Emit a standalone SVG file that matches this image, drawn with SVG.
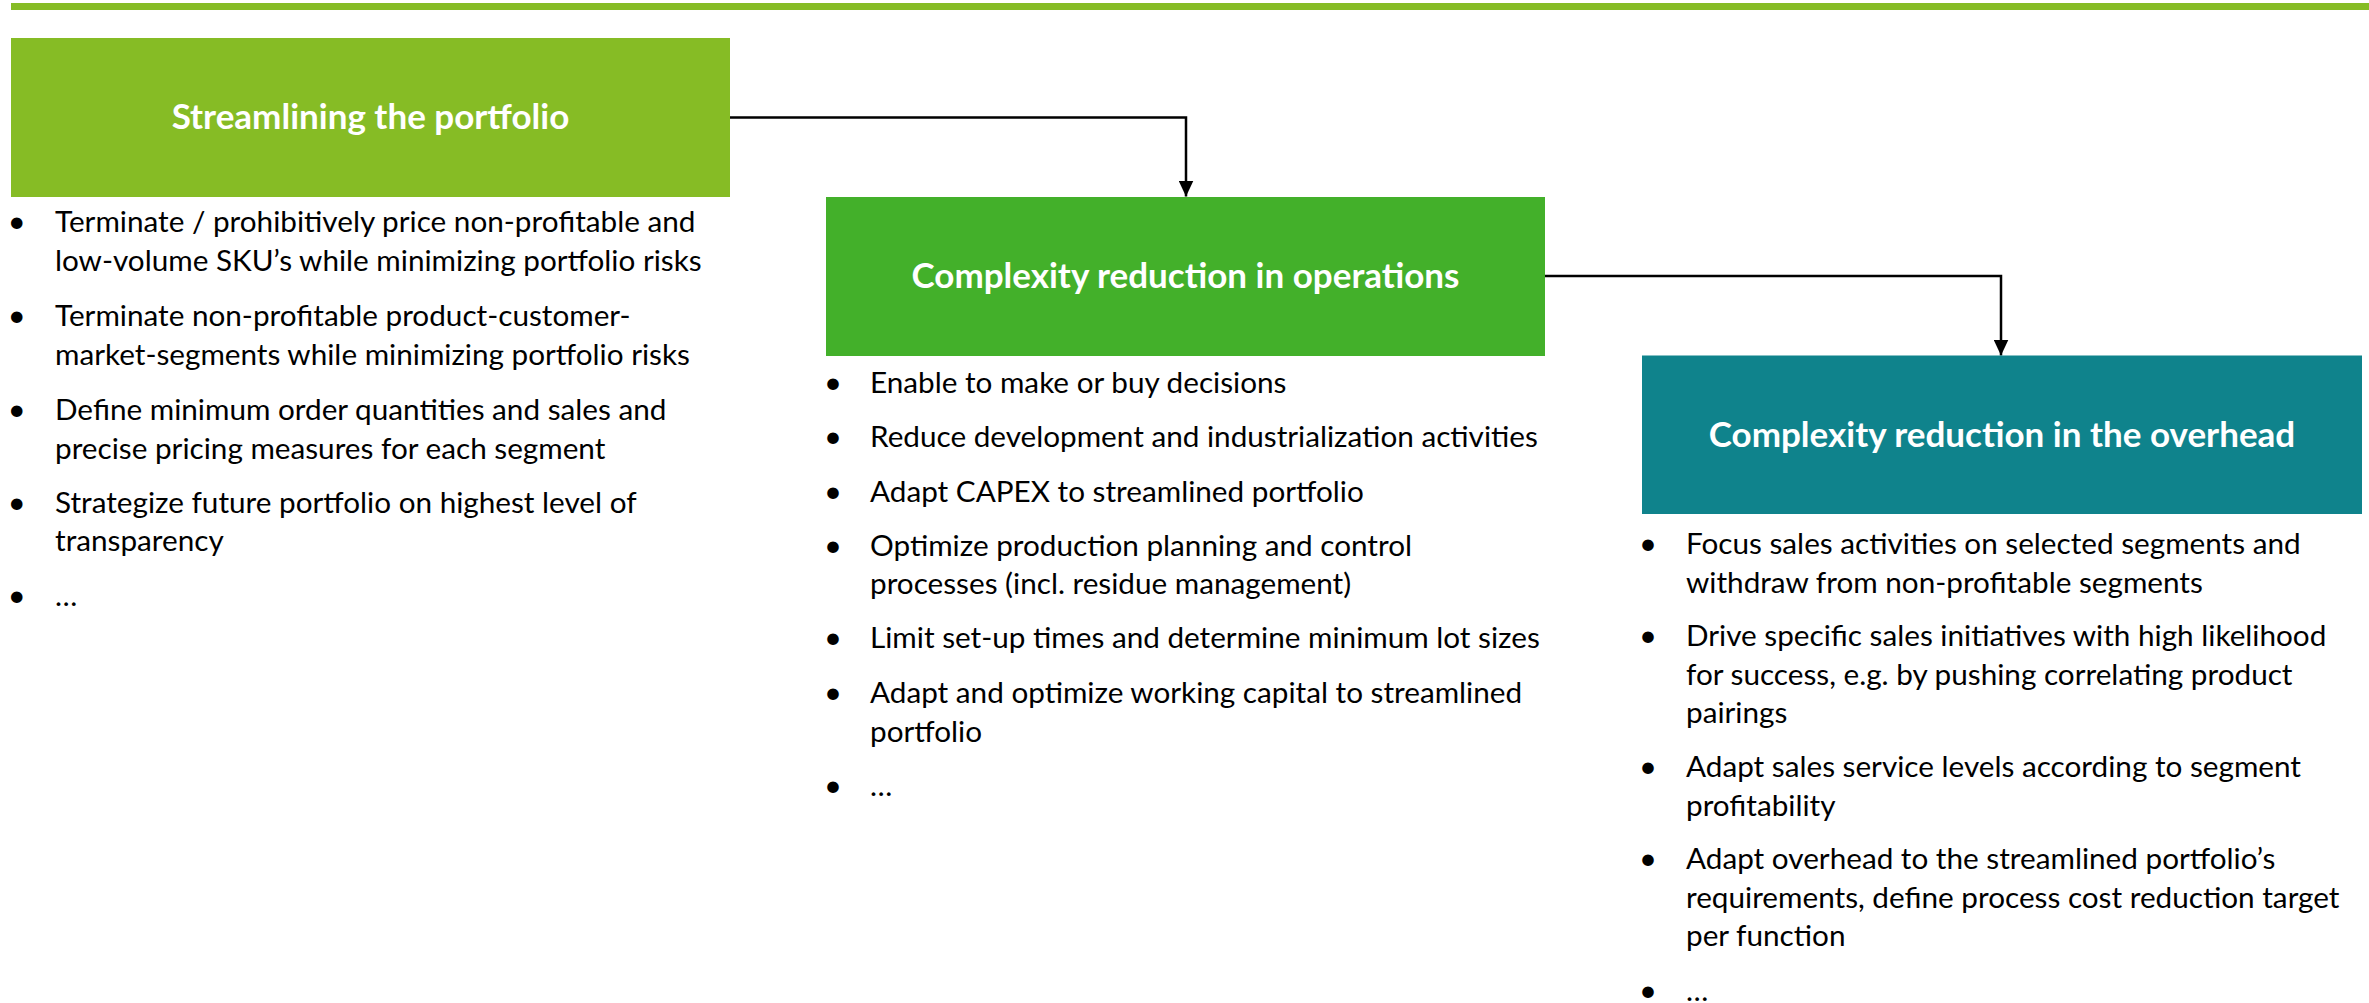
<svg xmlns="http://www.w3.org/2000/svg" width="2369" height="1003" viewBox="0 0 2369 1003">
  <style>
    .title { font-family: Lato, "Open Sans", "Liberation Sans", sans-serif; font-weight: 700; font-size: 35px; fill: #ffffff; text-anchor: middle; }
    .item { font-family: Lato, "Open Sans", "Liberation Sans", sans-serif; font-size: 29.7px; fill: #000000; }
    .dot { font-family: Lato, "Open Sans", "Liberation Sans", sans-serif; font-size: 31px; fill: #000000; text-anchor: middle; }
    .link { fill: none; stroke: #000000; stroke-width: 2.5; stroke-linejoin: miter; }
  </style>
  <defs>
    <marker id="arrow" markerUnits="userSpaceOnUse" markerWidth="16" markerHeight="15" refX="16" refY="7.5" orient="auto">
      <path d="M0,0 L16,7.5 L0,15 Z" fill="#000000"/>
    </marker>
  </defs>

  <rect width="2369" height="1003" fill="#ffffff"/>

  <!-- header rule -->
  <rect id="header-rule" x="11" y="3" width="2358" height="7" fill="#86BC25"/>

  <!-- connectors -->
  <g id="connectors">
    <path class="link" d="M730,117.5 H1186 V196.5" marker-end="url(#arrow)"/>
    <path class="link" d="M1545,276 H2001 V355.5" marker-end="url(#arrow)"/>
  </g>

  <!-- stage 1 -->
  <g id="node-streamlining">
    <rect x="11" y="38" width="719" height="159" fill="#86BC25"/>
    <text class="title" x="370.5" y="129">Streamlining the portfolio</text>
    <g id="list-streamlining">
      <text class="dot" x="16.7" y="232">•</text>
      <text class="item" x="55" y="232">Terminate / prohibitively price non-profitable and</text>
      <text class="item" x="55" y="271">low-volume SKU’s while minimizing portfolio risks</text>
      <text class="dot" x="16.7" y="326">•</text>
      <text class="item" x="55" y="326">Terminate non-profitable product-customer-</text>
      <text class="item" x="55" y="365">market-segments while minimizing portfolio risks</text>
      <text class="dot" x="16.7" y="420">•</text>
      <text class="item" x="55" y="420">Define minimum order quantities and sales and</text>
      <text class="item" x="55" y="458.5">precise pricing measures for each segment</text>
      <text class="dot" x="16.7" y="513">•</text>
      <text class="item" x="55" y="513">Strategize future portfolio on highest level of</text>
      <text class="item" x="55" y="551">transparency</text>
      <text class="dot" x="16.7" y="606">•</text>
      <text class="item" x="55" y="606">…</text>
    </g>
  </g>

  <!-- stage 2 -->
  <g id="node-operations">
    <rect x="826" y="197" width="719" height="159" fill="#43B02A"/>
    <text class="title" x="1185.5" y="288">Complexity reduction in operations</text>
    <g id="list-operations">
      <text class="dot" x="833" y="393">•</text>
      <text class="item" x="870" y="393">Enable to make or buy decisions</text>
      <text class="dot" x="833" y="447">•</text>
      <text class="item" x="870" y="447">Reduce development and industrialization activities</text>
      <text class="dot" x="833" y="501.5">•</text>
      <text class="item" x="870" y="501.5">Adapt CAPEX to streamlined portfolio</text>
      <text class="dot" x="833" y="555.5">•</text>
      <text class="item" x="870" y="555.5">Optimize production planning and control</text>
      <text class="item" x="870" y="594">processes (incl. residue management)</text>
      <text class="dot" x="833" y="648">•</text>
      <text class="item" x="870" y="648">Limit set-up times and determine minimum lot sizes</text>
      <text class="dot" x="833" y="703">•</text>
      <text class="item" x="870" y="703">Adapt and optimize working capital to streamlined</text>
      <text class="item" x="870" y="741.5">portfolio</text>
      <text class="dot" x="833" y="796">•</text>
      <text class="item" x="870" y="796">…</text>
    </g>
  </g>

  <!-- stage 3 -->
  <g id="node-overhead">
    <rect x="1642" y="355.5" width="720" height="158.5" fill="#0F838C"/>
    <text class="title" x="2002" y="447">Complexity reduction in the overhead</text>
    <g id="list-overhead">
      <text class="dot" x="1648" y="554">•</text>
      <text class="item" x="1686" y="554">Focus sales activities on selected segments and</text>
      <text class="item" x="1686" y="592.5">withdraw from non-profitable segments</text>
      <text class="dot" x="1648" y="646">•</text>
      <text class="item" x="1686" y="646">Drive specific sales initiatives with high likelihood</text>
      <text class="item" x="1686" y="684.5">for success, e.g. by pushing correlating product</text>
      <text class="item" x="1686" y="723">pairings</text>
      <text class="dot" x="1648" y="777">•</text>
      <text class="item" x="1686" y="777">Adapt sales service levels according to segment</text>
      <text class="item" x="1686" y="815.5">profitability</text>
      <text class="dot" x="1648" y="869">•</text>
      <text class="item" x="1686" y="869">Adapt overhead to the streamlined portfolio’s</text>
      <text class="item" x="1686" y="907.5">requirements, define process cost reduction target</text>
      <text class="item" x="1686" y="946">per function</text>
      <text class="dot" x="1648" y="1001">•</text>
      <text class="item" x="1686" y="1001">…</text>
    </g>
  </g>
</svg>
